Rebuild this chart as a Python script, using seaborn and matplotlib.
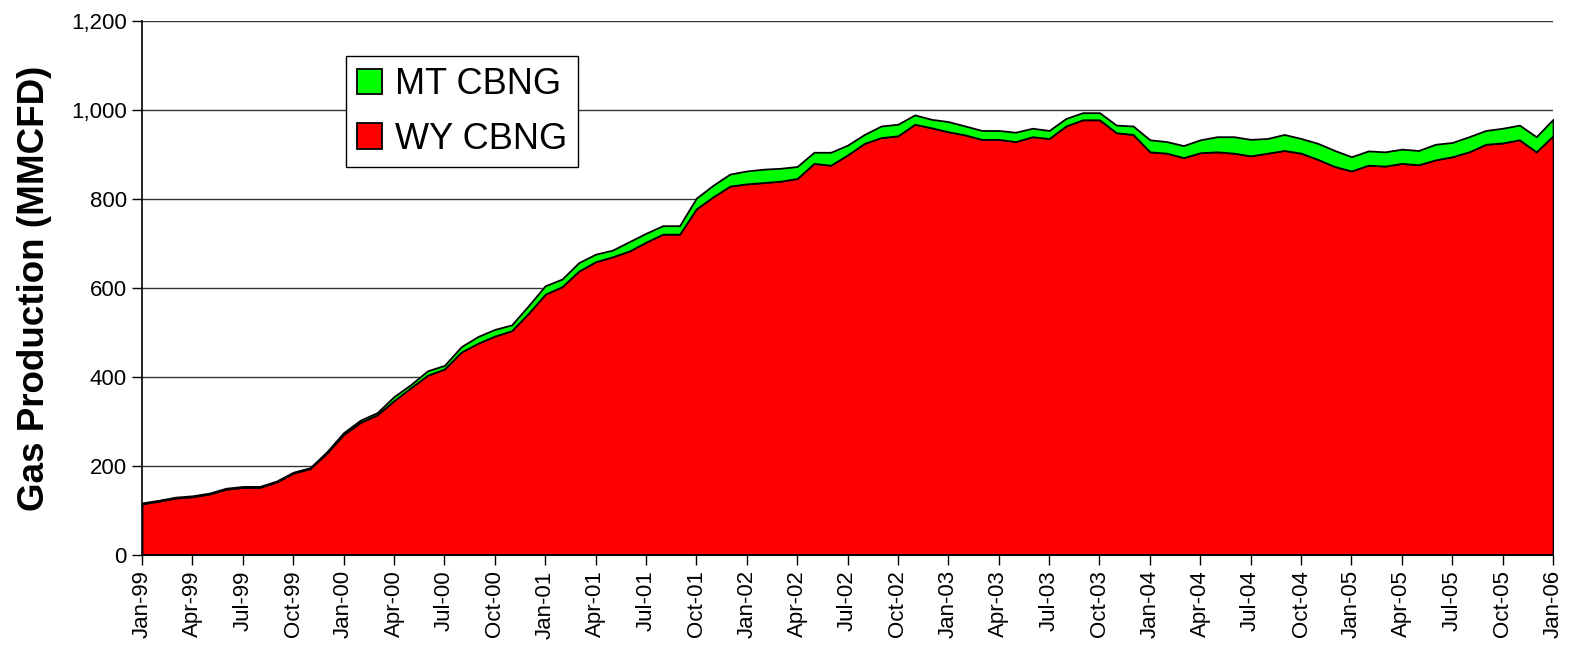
import pandas as pd
import matplotlib
matplotlib.use('Agg')
import matplotlib.pyplot as plt
import seaborn as sns

# monthly data, Jan-99 .. Jan-06 (MMCFD)
months = pd.date_range('1999-01-01', periods=85, freq='MS')

wy_cbng = [115, 121, 128, 131, 137, 148, 152, 152, 164, 184, 194, 229,
           271, 298, 315, 347, 376, 404, 418, 456, 476, 492, 504, 543,
           586, 603, 638, 659, 670, 683, 703, 721, 721, 778, 805, 829,
           834, 837, 840, 846, 880, 876, 899, 925, 938, 942, 968, 960,
           951, 944, 934, 934, 929, 940, 936, 964, 978, 978, 949, 945,
           906, 903, 893, 904, 906, 903, 897, 903, 909, 903, 889, 873,
           863, 876, 874, 880, 877, 888, 895, 906, 923, 926, 933, 906,
           942]

mt_cbng = [2, 2, 2, 2, 2, 2, 2, 2, 2, 2, 2, 3,
           4, 5, 5, 9, 7, 10, 8, 12, 15, 15, 13, 17,
           19, 17, 19, 17, 15, 21, 20, 19, 19, 24, 26, 27,
           29, 30, 29, 27, 25, 29, 22, 20, 26, 26, 21, 19,
           23, 20, 20, 20, 21, 19, 18, 17, 16, 16, 17, 19,
           27, 26, 27, 29, 34, 37, 37, 33, 36, 33, 36, 36,
           32, 32, 32, 32, 32, 35, 32, 34, 31, 33, 33, 34,
           37]

df = pd.DataFrame({'month': months, 'WY CBNG': wy_cbng, 'MT CBNG': mt_cbng})
df['idx'] = range(len(df))

sns.set_theme(style='white')
plt.rcParams['font.family'] = ['Liberation Sans', 'DejaVu Sans']
plt.rcParams['text.color'] = 'black'
plt.rcParams['axes.labelcolor'] = 'black'
plt.rcParams['xtick.color'] = 'black'
plt.rcParams['ytick.color'] = 'black'

fig = plt.figure(figsize=(15.73, 6.46), dpi=100)
ax = fig.add_axes([0.0903, 0.1409, 0.8970, 0.8266])

ax.stackplot(df['idx'], df['WY CBNG'], df['MT CBNG'],
             colors=['#ff0000', '#00ff00'], labels=['WY CBNG', 'MT CBNG'],
             edgecolor='black', linewidth=1.3, zorder=2)

ax.set_xlim(0, 84)
ax.set_ylim(0, 1200)
ax.set_yticks(range(0, 1201, 200))
ax.set_yticklabels([f'{v:,}' for v in range(0, 1201, 200)])
tick_idx = list(range(0, 85, 3))
ax.set_xticks(tick_idx)
ax.set_xticklabels([months[i].strftime('%b-%y') for i in tick_idx], rotation=90)

ax.yaxis.grid(True, color='#333333', linewidth=1, zorder=0)
ax.set_axisbelow(True)
for s in ['top', 'right']:
    ax.spines[s].set_visible(False)
for s in ['left', 'bottom']:
    ax.spines[s].set_color('black')
    ax.spines[s].set_linewidth(1.2)

ax.tick_params(axis='both', which='both', direction='out', length=7, width=1,
               color='black', labelcolor='black', labelsize=16,
               left=True, bottom=True, pad=4)

ax.set_ylabel('Gas Production (MMCFD)', fontsize=26.5, fontweight='bold',
              color='black', labelpad=14)

handles, labels = ax.get_legend_handles_labels()
leg = ax.legend(handles[::-1], labels[::-1], loc='upper left',
                bbox_to_anchor=(0.1446, 0.9345), borderaxespad=0,
                fontsize=26, frameon=True, fancybox=False, shadow=False,
                handlelength=0.7, handleheight=0.7, handletextpad=0.35,
                labelspacing=0.55, borderpad=0.3)
leg.get_frame().set_edgecolor('black')
leg.get_frame().set_linewidth(1)
leg.get_frame().set_alpha(1)
for t in leg.get_texts():
    t.set_color('black')

fig.savefig('out.png', dpi=100)
